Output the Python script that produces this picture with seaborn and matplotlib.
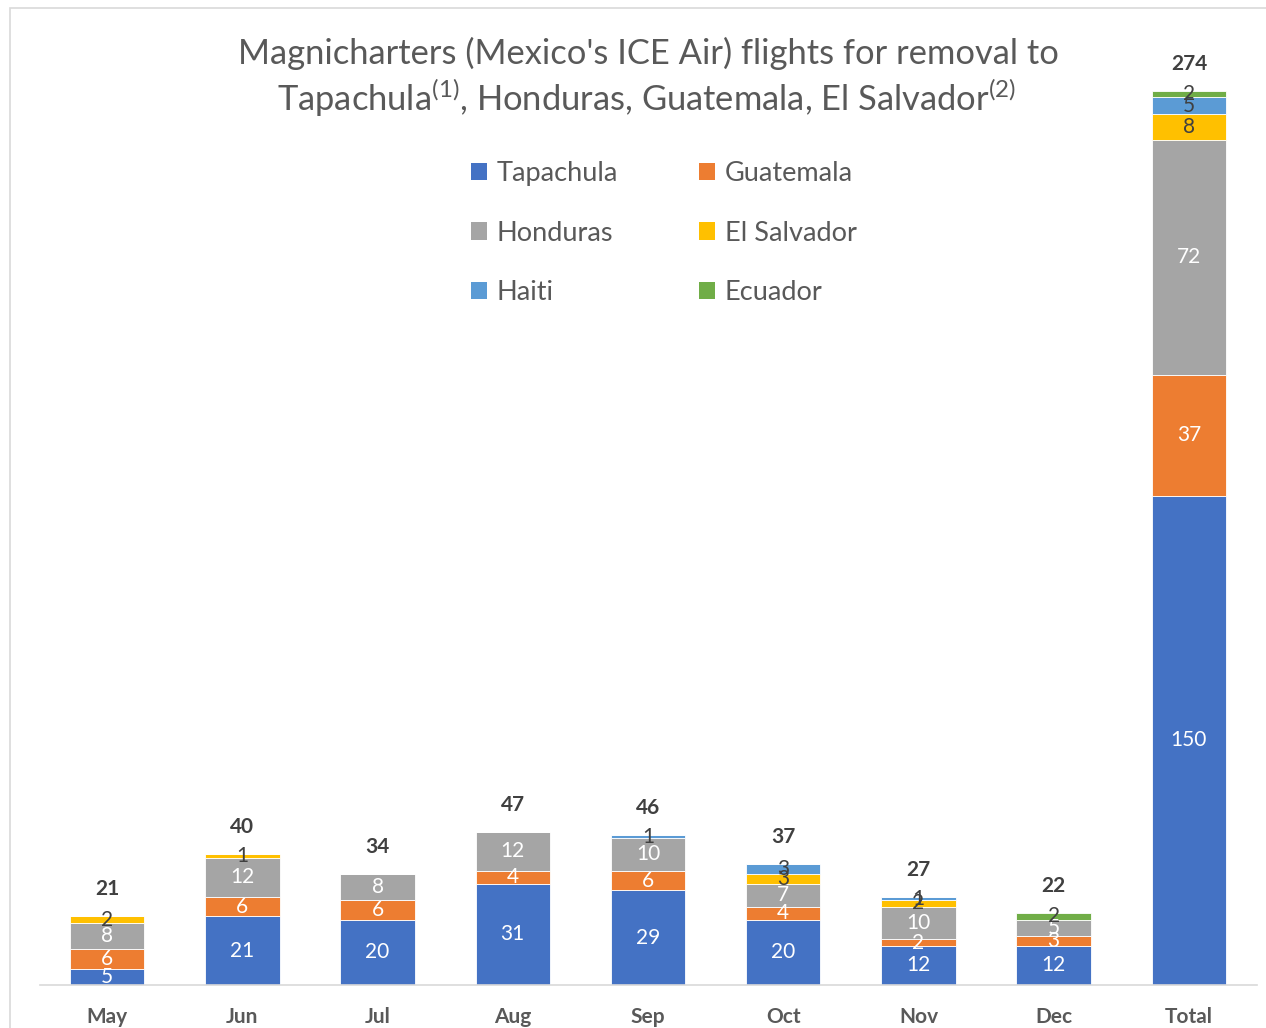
import numpy as np
import pandas as pd
import matplotlib
matplotlib.use("Agg")
import matplotlib.pyplot as plt
import seaborn as sns
from matplotlib.patches import Patch, Rectangle

categories = ["May", "Jun", "Jul", "Aug", "Sep", "Oct", "Nov", "Dec", "Total"]
tapachula = [5, 21, 20, 31, 29, 20, 12, 12, 150]
guatemala = [6, 6, 6, 4, 6, 4, 2, 3, 37]
honduras = [8, 12, 8, 12, 10, 7, 10, 5, 72]
el_salvador = [2, 1, 0, 0, 0, 3, 2, 0, 8]
haiti = [0, 0, 0, 0, 1, 3, 1, 0, 5]
ecuador = [0, 0, 0, 0, 0, 0, 0, 2, 2]
totals = [21, 40, 34, 47, 46, 37, 27, 22, 274]

series_names = ["Tapachula", "Guatemala", "Honduras", "El Salvador", "Haiti", "Ecuador"]
series_values = [tapachula, guatemala, honduras, el_salvador, haiti, ecuador]
colors = ["#4472C4", "#ED7D31", "#A5A5A5", "#FFC000", "#5B9BD5", "#70AD47"]
label_colors = ["white", "white", "white", "#404040", "#404040", "#404040"]

sns.set_theme(style="white")
plt.rcParams["font.family"] = ["Lato", "DejaVu Sans"]
plt.rcParams["mathtext.fontset"] = "custom"
plt.rcParams["mathtext.rm"] = "Lato"
plt.rcParams["mathtext.it"] = "Lato:italic"
plt.rcParams["mathtext.bf"] = "Lato:bold"

fig = plt.figure(figsize=(12.66, 10.28), dpi=100)
ax = fig.add_axes([39.5 / 1266, 43 / 1028, 1217 / 1266, 979 / 1028])

bottom = np.zeros(len(categories))
for name, vals, col, tcol in zip(series_names, series_values, colors, label_colors):
    df = pd.DataFrame({"cat": categories, "val": vals})
    sns.barplot(data=df, x="cat", y="val", order=categories, color=col,
                saturation=1, width=0.55, bottom=bottom.copy(), errorbar=None,
                edgecolor="white", linewidth=0.6, ax=ax)
    for i, v in enumerate(vals):
        if v > 0:
            ax.text(i, bottom[i] + v / 2, str(v), ha="center", va="center",
                    color=tcol, fontsize=15)
    bottom = bottom + np.array(vals)

for i, t in enumerate(totals):
    ax.annotate(str(t), (i, bottom[i]), xytext=(0, 19.5), textcoords="offset points",
                ha="center", va="center", fontsize=15, fontweight="bold", color="#404040")

ax.set_xlim(-0.5, len(categories) - 0.5)
ax.set_ylim(0, 300)
ax.set_xlabel("")
ax.set_ylabel("")
ax.set_yticks([])
for s in ["top", "right", "left"]:
    ax.spines[s].set_visible(False)
ax.spines["bottom"].set_color("#D9D9D9")
ax.spines["bottom"].set_linewidth(1.2)
ax.tick_params(axis="x", length=0, pad=16, labelsize=15, labelcolor="#595959")
for lbl in ax.get_xticklabels():
    lbl.set_fontweight("bold")
ax.patch.set_alpha(0)

fig.text(648 / 1266, 1 - 53 / 1028, "Magnicharters (Mexico's ICE Air) flights for removal to",
         ha="center", va="center", fontsize=24.8, color="#595959")
fig.text(647 / 1266, 1 - 98 / 1028,
         "Tapachula$^{(1)}$, Honduras, Guatemala, El Salvador$^{(2)}$",
         ha="center", va="center", fontsize=24.8, color="#595959")

order_idx = [0, 2, 4, 1, 3, 5]
handles = [Patch(facecolor=colors[k], edgecolor="none") for k in order_idx]
labels = [series_names[k] for k in order_idx]
leg = ax.legend(handles, labels, ncol=2, loc="center", bbox_to_anchor=(0.513, 0.768),
                frameon=False, fontsize=19.5, handlelength=0.6, handleheight=0.6,
                handletextpad=0.35, labelspacing=1.27, columnspacing=3.0)
for t in leg.get_texts():
    t.set_color("#595959")

fig.add_artist(Rectangle((10 / 1266, -0.1), 1.2, 1.1 - 8 / 1028,
                         transform=fig.transFigure, fill=False,
                         edgecolor="#D9D9D9", linewidth=1.2))

fig.savefig("out.png", dpi=100)
